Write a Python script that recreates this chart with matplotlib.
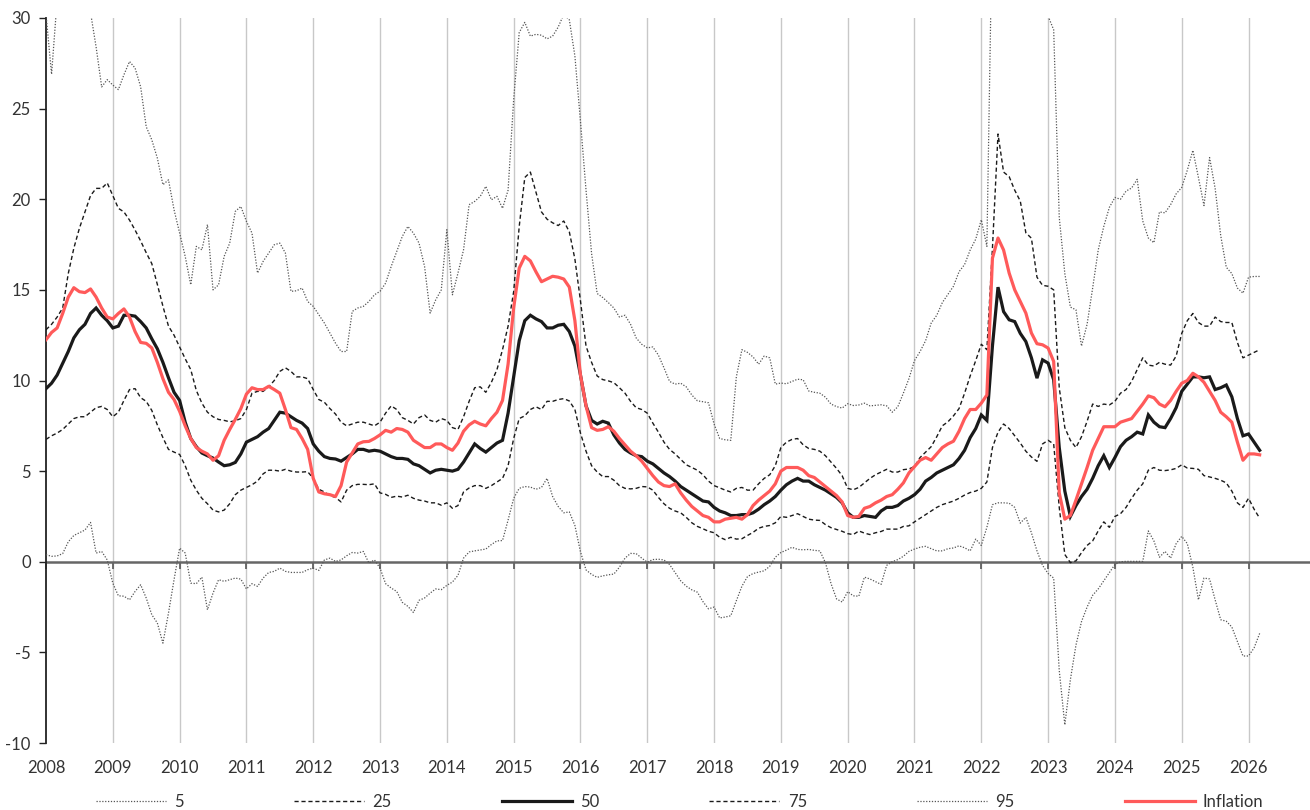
import numpy as np
import matplotlib
matplotlib.use("Agg")
import matplotlib.pyplot as plt
from matplotlib.lines import Line2D

plt.rcParams['font.family'] = ['Lato', 'DejaVu Sans']

start_year = 2008
years = list(range(2008, 2027))

p5 = [
 0.39, 0.3, 0.32, 0.45, 1.1, 1.45, 1.6, 1.75, 2.17, 0.48, 0.57, 0.1,
 -1.18, -1.88, -1.9, -2.1, -1.64, -1.27, -2.0, -2.92, -3.38, -4.49, -2.83, -0.99,
 0.75, 0.48, -1.18, -1.21, -0.85, -2.65, -1.73, -0.99, -1.08, -0.99, -0.9, -0.96,
 -1.5, -1.21, -1.36, -0.9, -0.59, -0.53, -0.35, -0.53, -0.59, -0.59, -0.59, -0.44,
 -0.35, -0.48, 0.1, 0.2, 0.02, 0.1, 0.33, 0.51, 0.48, 0.57, -0.07, 0.1,
 -0.35, -1.21, -1.45, -1.64, -2.24, -2.46, -2.8, -2.13, -2.0, -1.73, -1.5, -1.54,
 -1.3, -1.12, -0.75, 0.2, 0.54, 0.6, 0.65, 0.7, 0.95, 1.15, 1.17, 2.3,
 3.5, 4.05, 4.15, 4.12, 4.0, 4.1, 4.6, 3.6, 3.05, 2.7, 2.75, 2.0,
 0.55, -0.45, -0.7, -0.86, -0.78, -0.72, -0.68, -0.3, 0.2, 0.46, 0.45, 0.2,
 -0.02, 0.12, 0.14, 0.1, -0.15, -0.6, -1.05, -1.35, -1.55, -1.68, -2.2, -2.6,
 -2.5, -3.1, -3.05, -2.98, -2.15, -1.35, -0.82, -0.65, -0.57, -0.5, -0.25, 0.25,
 0.51, 0.64, 0.8, 0.68, 0.66, 0.68, 0.63, 0.6, -0.05, -1.2, -2.05, -2.22,
 -1.65, -1.88, -1.9, -0.85, -0.95, -1.1, -1.25, -0.2, 0.0, 0.12, 0.3, 0.57,
 0.7, 0.8, 0.85, 0.72, 0.6, 0.6, 0.72, 0.76, 0.88, 0.77, 0.6, 1.25,
 0.9, 1.9, 3.15, 3.25, 3.25, 3.23, 3.0, 2.13, 2.45, 1.6, 0.6, -0.2,
 -0.65, -0.9, -6.0, -9.0, -6.5, -4.6, -3.3, -2.5, -1.85, -1.5, -1.05, -0.6,
 -0.15, 0.0, 0.02, 0.02, 0.02, 0.02, 1.7, 1.15, 0.25, 0.57, 0.2, 1.0,
 1.4, 1.0, -0.3, -2.1, -0.9, -0.95, -2.1, -3.2, -3.28, -3.6, -4.4, -5.2,
 -5.2, -4.75, -3.95]

p25 = [
 6.75, 6.95, 7.1, 7.3, 7.6, 7.9, 8.0, 8.0, 8.25, 8.5, 8.57, 8.4,
 8.0, 8.25, 8.9, 9.5, 9.55, 9.05, 8.85, 8.35, 7.55, 6.85, 6.2, 6.05,
 5.92, 5.3, 4.5, 3.95, 3.5, 3.2, 2.85, 2.75, 2.85, 3.2, 3.7, 3.95,
 4.1, 4.25, 4.45, 4.85, 5.05, 5.05, 5.0, 5.1, 5.0, 4.95, 4.95, 4.97,
 4.6, 4.0, 3.85, 3.65, 3.55, 3.3, 3.95, 4.2, 4.27, 4.27, 4.25, 4.3,
 3.8, 3.72, 3.55, 3.62, 3.57, 3.67, 3.5, 3.4, 3.35, 3.25, 3.25, 3.12,
 3.25, 2.95, 3.1, 3.85, 4.07, 4.2, 4.2, 4.05, 4.2, 4.4, 4.6, 5.3,
 6.8, 7.9, 8.05, 8.4, 8.55, 8.4, 8.85, 8.85, 8.95, 9.0, 8.87, 8.4,
 7.1, 6.1, 5.3, 4.95, 4.7, 4.7, 4.5, 4.2, 4.05, 4.02, 4.05, 4.15,
 4.13, 3.95, 3.55, 3.2, 2.95, 2.8, 2.7, 2.45, 2.15, 1.95, 1.82, 1.68,
 1.6, 1.35, 1.22, 1.35, 1.25, 1.27, 1.45, 1.62, 1.85, 1.95, 2.0, 2.15,
 2.5, 2.45, 2.55, 2.65, 2.5, 2.35, 2.3, 2.28, 2.05, 1.88, 1.78, 1.68,
 1.55, 1.5, 1.7, 1.58, 1.5, 1.6, 1.67, 1.8, 1.8, 1.8, 1.95, 1.98,
 2.2, 2.4, 2.6, 2.8, 3.0, 3.15, 3.25, 3.35, 3.5, 3.68, 3.82, 3.9,
 4.05, 4.4, 6.3, 7.15, 7.6, 7.35, 6.95, 6.55, 6.1, 5.78, 5.54, 6.5,
 6.7, 6.5, 3.0, 0.4, -0.05, 0.05, 0.5, 0.9, 1.15, 1.7, 2.2, 1.9,
 2.5, 2.65, 3.0, 3.5, 3.95, 4.3, 5.05, 5.2, 5.05, 5.03, 5.07, 5.15,
 5.35, 5.17, 5.15, 5.1, 4.75, 4.68, 4.6, 4.5, 4.35, 3.9, 3.25, 3.0,
 3.5, 2.9, 2.4]

p50 = [
 9.55, 9.85, 10.3, 10.95, 11.6, 12.35, 12.8, 13.1, 13.7, 14.0, 13.6, 13.3,
 12.9, 13.0, 13.6, 13.6, 13.55, 13.25, 12.9, 12.3, 11.75, 11.0, 10.15, 9.35,
 8.9, 7.7, 6.8, 6.35, 6.0, 5.85, 5.72, 5.5, 5.3, 5.35, 5.48, 5.95,
 6.6, 6.75, 6.9, 7.15, 7.35, 7.8, 8.25, 8.2, 8.0, 7.8, 7.65, 7.35,
 6.5, 6.1, 5.8, 5.7, 5.67, 5.55, 5.75, 5.95, 6.2, 6.2, 6.1, 6.15,
 6.1, 5.95, 5.8, 5.7, 5.7, 5.65, 5.4, 5.3, 5.1, 4.9, 5.05, 5.1,
 5.05, 5.0, 5.1, 5.5, 6.0, 6.5, 6.25, 6.05, 6.3, 6.55, 6.7, 8.2,
 10.2, 12.2, 13.3, 13.6, 13.4, 13.25, 12.9, 12.9, 13.05, 13.1, 12.7, 11.9,
 10.3, 8.6, 7.8, 7.6, 7.75, 7.65, 7.0, 6.55, 6.2, 6.0, 5.85, 5.8,
 5.55, 5.4, 5.15, 4.9, 4.7, 4.45, 4.15, 3.95, 3.75, 3.55, 3.35, 3.3,
 3.0, 2.8, 2.7, 2.55, 2.55, 2.6, 2.6, 2.7, 2.9, 3.15, 3.35, 3.6,
 3.95, 4.25, 4.45, 4.6, 4.45, 4.45, 4.25, 4.1, 3.95, 3.75, 3.55, 3.25,
 2.7, 2.45, 2.45, 2.55, 2.5, 2.45, 2.8, 3.0, 3.0, 3.1, 3.35, 3.5,
 3.7, 4.0, 4.45, 4.65, 4.9, 5.05, 5.2, 5.35, 5.7, 6.15, 6.85, 7.35,
 8.1, 7.8, 11.9, 15.15, 13.8, 13.35, 13.25, 12.6, 12.15, 11.25, 10.13, 11.14,
 10.96, 10.04, 6.3, 3.9, 2.5, 3.1, 3.6, 4.0, 4.6, 5.3, 5.85, 5.2,
 5.75, 6.35, 6.7, 6.9, 7.15, 7.05, 8.1, 7.7, 7.45, 7.4, 7.9, 8.5,
 9.4, 9.8, 10.2, 10.2, 10.15, 10.2, 9.5, 9.6, 9.75, 9.1, 7.9, 6.95,
 7.05, 6.6, 6.15]

p75 = [
 12.8, 13.1, 13.5, 14.0, 15.9, 17.3, 18.4, 19.3, 20.2, 20.6, 20.6, 20.9,
 20.2, 19.5, 19.3, 18.85, 18.3, 17.7, 17.05, 16.45, 15.3, 14.1, 13.0, 12.5,
 11.85, 11.2, 10.6, 9.45, 8.75, 8.25, 8.0, 7.85, 7.8, 7.72, 7.78, 7.9,
 8.4, 9.3, 9.4, 9.4, 9.65, 10.0, 10.5, 10.7, 10.5, 10.2, 10.2, 10.1,
 9.5, 8.95, 8.8, 8.45, 8.15, 7.7, 7.5, 7.6, 7.7, 7.7, 7.6, 7.5,
 7.7, 8.2, 8.6, 8.4, 7.95, 7.8, 7.6, 7.95, 8.1, 7.8, 7.7, 7.9,
 7.8, 7.4, 7.3, 8.0, 8.85, 9.6, 9.65, 9.35, 9.9, 10.6, 11.7, 13.0,
 14.9, 18.5, 21.2, 21.5, 20.4, 19.3, 18.9, 18.7, 18.55, 18.8, 18.2, 16.7,
 14.4, 11.9, 11.0, 10.25, 10.05, 9.98, 9.88, 9.6, 9.3, 8.85, 8.5, 8.4,
 8.2, 7.65, 7.15, 6.6, 6.2, 5.95, 5.65, 5.35, 5.2, 5.05, 4.8, 4.45,
 4.2, 4.08, 3.95, 3.85, 4.05, 4.1, 3.95, 3.95, 4.3, 4.6, 4.8, 5.3,
 6.3, 6.6, 6.75, 6.8, 6.45, 6.25, 6.2, 6.1, 5.85, 5.5, 5.15, 4.75,
 4.05, 3.97, 4.1, 4.35, 4.6, 4.8, 4.95, 5.1, 4.95, 4.95, 5.08, 5.12,
 5.25, 5.75, 6.05, 6.35, 6.9, 7.5, 7.72, 8.05, 8.45, 9.3, 10.25, 11.1,
 12.0, 11.7, 17.3, 23.6, 21.5, 21.25, 20.5, 19.9, 18.15, 17.85, 15.7, 15.25,
 15.2, 15.0, 9.6, 7.4, 6.7, 6.3, 6.9, 7.75, 8.7, 8.57, 8.7, 8.65,
 8.85, 9.3, 9.5, 9.95, 10.6, 11.25, 10.85, 10.8, 11.0, 10.9, 10.85, 11.35,
 12.6, 13.3, 13.7, 13.2, 13.0, 13.0, 13.5, 13.25, 13.2, 13.2, 12.1, 11.25,
 11.4, 11.55, 11.7]

p95 = [
 30.2, 26.9, 31.0, 32.5, 33.5, 34.0, 33.0, 31.5, 30.3, 28.4, 26.2, 26.6,
 26.3, 26.05, 26.87, 27.6, 27.24, 26.2, 24.0, 23.28, 22.27, 20.8, 21.07, 19.42,
 18.13, 16.85, 15.28, 17.4, 17.21, 18.6, 15.0, 15.28, 16.85, 17.58, 19.33, 19.6,
 18.78, 18.13, 15.93, 16.57, 17.03, 17.49, 17.58, 17.03, 14.92, 14.95, 15.1, 14.36,
 14.09, 13.63, 13.17, 12.62, 12.06, 11.6, 11.6, 13.81, 14.0, 14.09, 14.36, 14.73,
 14.92, 15.37, 16.29, 17.12, 17.95, 18.5, 18.13, 17.58, 16.29, 13.72, 14.45, 15.0,
 18.32, 14.73, 15.93, 17.21, 19.7, 19.88, 20.16, 20.71, 19.97, 20.16, 19.5, 20.5,
 25.5, 29.2, 29.76, 29.0, 29.1, 29.05, 28.85, 29.0, 29.5, 30.2, 29.9, 27.9,
 24.3, 20.5, 17.0, 14.8, 14.58, 14.3, 14.0, 13.5, 13.6, 13.1, 12.35, 12.0,
 11.8, 11.85, 11.4, 10.7, 9.95, 9.8, 9.85, 9.65, 9.2, 8.88, 8.83, 8.77,
 7.6, 6.8, 6.73, 6.7, 10.2, 11.7, 11.55, 11.3, 10.9, 11.35, 11.25, 9.8,
 9.86, 9.82, 9.95, 10.07, 10.04, 9.42, 9.35, 9.3, 9.08, 8.7, 8.56, 8.48,
 8.72, 8.62, 8.65, 8.75, 8.6, 8.63, 8.66, 8.6, 8.25, 8.55, 9.3, 10.1,
 11.1, 11.6, 12.2, 13.17, 13.6, 14.3, 14.75, 15.2, 16.0, 16.4, 17.2, 17.8,
 18.87, 17.4, 36.0, 40.0, 41.0, 40.0, 38.0, 37.0, 36.0, 35.0, 34.0, 32.0,
 30.1, 29.35, 19.0, 15.9, 14.05, 13.9, 11.9, 13.1, 15.1, 17.2, 18.5, 19.55,
 20.1, 20.0, 20.45, 20.62, 21.1, 18.8, 17.86, 17.6, 19.3, 19.25, 19.7, 20.3,
 20.65, 21.6, 22.7, 21.2, 19.65, 22.3, 20.6, 18.0, 16.25, 15.9, 15.1, 14.82,
 15.7, 15.74, 15.74]

inflation = [
 12.25, 12.65, 12.9, 13.7, 14.6, 15.12, 14.9, 14.85, 15.05, 14.6, 14.0, 13.5,
 13.4, 13.7, 13.95, 13.5, 12.7, 12.1, 12.05, 11.8, 11.0, 10.1, 9.35, 8.95,
 8.3, 7.5, 6.8, 6.3, 6.1, 5.95, 5.6, 5.85, 6.7, 7.3, 7.85, 8.45,
 9.25, 9.6, 9.5, 9.5, 9.68, 9.5, 9.3, 8.4, 7.4, 7.3, 6.8, 6.2,
 4.6, 3.85, 3.75, 3.7, 3.6, 4.2, 5.5, 6.0, 6.5, 6.62, 6.64, 6.8,
 7.0, 7.25, 7.15, 7.35, 7.3, 7.15, 6.7, 6.5, 6.3, 6.3, 6.5, 6.5,
 6.3, 6.15, 6.55, 7.2, 7.55, 7.75, 7.6, 7.5, 7.9, 8.25, 8.9, 10.9,
 14.0, 16.2, 16.85, 16.6, 16.0, 15.45, 15.6, 15.75, 15.7, 15.6, 15.15, 13.3,
 10.3, 8.6, 7.4, 7.25, 7.3, 7.45, 7.2, 6.8, 6.45, 6.1, 5.85, 5.55,
 5.15, 4.75, 4.4, 4.2, 4.15, 4.3, 3.8, 3.4, 3.05, 2.8, 2.55, 2.45,
 2.2, 2.2, 2.35, 2.4, 2.45, 2.35, 2.6, 3.1, 3.4, 3.65, 3.9, 4.3,
 5.0, 5.2, 5.2, 5.2, 5.05, 4.75, 4.65, 4.4, 4.15, 3.9, 3.65, 3.3,
 2.55, 2.45, 2.5, 2.95, 3.05, 3.25, 3.4, 3.6, 3.7, 4.0, 4.35, 4.9,
 5.25, 5.6, 5.75, 5.6, 5.95, 6.3, 6.5, 6.65, 7.2, 7.9, 8.4, 8.4,
 8.75, 9.2, 16.75, 17.86, 17.2, 15.93, 15.0, 14.36, 13.72, 12.62, 12.03, 11.97,
 11.79, 11.05, 3.8, 2.35, 2.55, 3.4, 4.3, 5.2, 6.15, 6.8, 7.45, 7.45,
 7.45, 7.7, 7.8, 7.9, 8.3, 8.7, 9.15, 9.05, 8.7, 8.55, 8.9, 9.4,
 9.85, 10.0, 10.4, 10.2, 9.9, 9.4, 8.9, 8.25, 8.0, 7.7, 6.6, 5.6,
 5.95, 5.95, 5.9]

series_labels = ['5', '25', '50', '75', '95', 'Inflation']
y_ticks = [-10, -5, 0, 5, 10, 15, 20, 25, 30]

n = len(inflation)
t = start_year + np.arange(n) / 12.0

fig = plt.figure(figsize=(13.1, 8.1), dpi=100)
ax = fig.add_axes([46 / 1310, 1 - 743 / 810, 1 - 46 / 1310, (743 - 18) / 810])

dot_style = dict(color='#555555', lw=0.9, linestyle=(0, (1, 1.3)))
dash_style = dict(color='#1a1a1a', lw=1.0, linestyle=(0, (3, 2)))
med_style = dict(color='#1a1a1a', lw=2.3, solid_joinstyle='miter')
inf_style = dict(color='#FF5A5A', lw=2.3)

for yv in years[1:]:
    ax.axvline(yv, color='#c8c8c8', lw=1.0, zorder=0)
ax.axhline(0, color='#666666', lw=1.8, zorder=1)

ax.plot(t, p5, **dot_style, zorder=3)
ax.plot(t, p25, **dash_style, zorder=3)
ax.plot(t, p50, **med_style, zorder=4)
ax.plot(t, p75, **dash_style, zorder=3)
ax.plot(t, p95, **dot_style, zorder=3)
ax.plot(t, inflation, **inf_style, zorder=5)

ax.set_xlim(2008, 2026.92)
ax.set_ylim(-10, 30)
ax.set_yticks(y_ticks)
ax.set_yticklabels([str(v) for v in y_ticks])
ax.set_xticks(years)
ax.set_xticklabels([str(y) for y in years])

for s in ['top', 'right', 'bottom']:
    ax.spines[s].set_visible(False)
ax.spines['left'].set_color('#222222')
ax.spines['left'].set_linewidth(1.3)
ax.tick_params(axis='y', direction='out', length=5, width=1.0, color='#222222',
               labelsize=12, labelcolor='#333333', pad=6)
ax.tick_params(axis='x', length=0, labelsize=12, labelcolor='#333333', pad=12)

# tick marks on the zero line
sec = ax.secondary_xaxis(0.25)
sec.set_xticks(years)
sec.tick_params(axis='x', direction='out', length=5, width=1.2, color='#555555',
                labelbottom=False)
sec.spines['bottom'].set_visible(False)

handles = [
    Line2D([], [], **dot_style),
    Line2D([], [], **dash_style),
    Line2D([], [], **med_style),
    Line2D([], [], **dash_style),
    Line2D([], [], **dot_style),
    Line2D([], [], **inf_style),
]
leg = fig.legend(handles, series_labels, loc='lower center', ncol=6, frameon=False,
                 bbox_to_anchor=(0.519, -0.018), fontsize=12, handlelength=4.2,
                 handletextpad=0.5, columnspacing=6.6)
for txt in leg.get_texts():
    txt.set_color('#333333')

fig.savefig('out.png', dpi=100)
